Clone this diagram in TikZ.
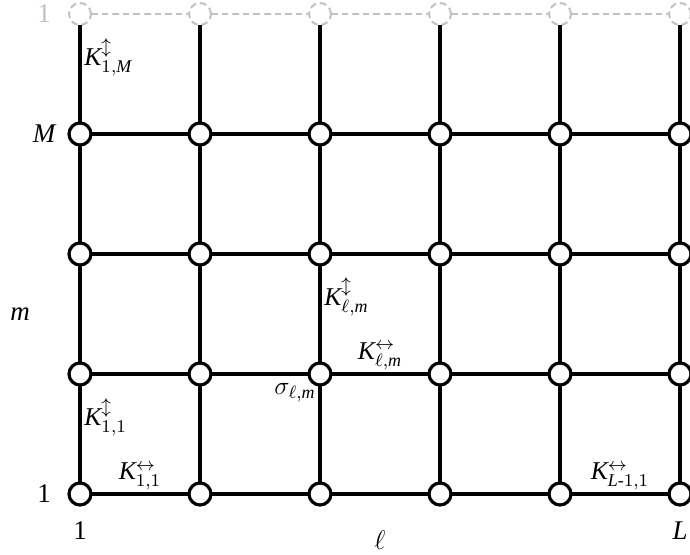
\documentclass[tikz,border=0pt]{standalone}
\usepackage{fix-cm}
\usepackage{amsmath}
\usepackage{fontspec}
\setmainfont{Liberation Serif}
\usetikzlibrary{positioning}
\definecolor{ghost}{gray}{0.76}
\newcommand{\Kud}[1]{$\mathit{K}^{\updownarrow}_{#1}$}
\newcommand{\Klr}[1]{$\mathit{K}^{\leftrightarrow}_{#1}$}
\tikzstyle{site}=[draw, circle, fill=white, line width=1.6pt, inner sep=0, outer sep=0, minimum size=11pt]
\tikzstyle{ghostsite}=[site, draw=ghost, line width=1pt, dash pattern=on 3.3pt off 2pt]
\tikzstyle{bond}=[line width=1.8pt]
\tikzstyle{ghostbond}=[draw=ghost, line width=1.1pt, dash pattern=on 3.3pt off 2pt]
\tikzstyle{axislabel}=[inner sep=0, font=\fontsize{13.5}{16}\selectfont]
\tikzstyle{bondlabel}=[inner sep=2pt, font=\fontsize{12.8}{15}\selectfont]

\begin{document}
\begin{tikzpicture}[x=60pt, y=60pt]
        \useasboundingbox (0, 0) rectangle (5.75, 4.6167);
        % lattice sites, the top row is the periodic copy of row 1
        \foreach \col in {1,...,6} {
            \foreach \row in {1,...,4}
                \node[site] (s-\col-\row) at (\col-0.3333, \row-0.5) {};
            \node[ghostsite] (s-\col-5) at (\col-0.3333, 4.5) {};
        }
        \foreach \col in {1,...,6}
            \foreach \row/\nxt in {1/2, 2/3, 3/4, 4/5}
                \draw[bond] (s-\col-\row) -- (s-\col-\nxt);
        \foreach \col/\nxt in {1/2, 2/3, 3/4, 4/5, 5/6} {
            \foreach \row in {1,...,4}
                \draw[bond] (s-\col-\row) -- (s-\nxt-\row);
            \draw[ghostbond] (s-\col-5) -- (s-\nxt-5);
        }
        % couplings
        \path (s-1-4) -- node[bondlabel, right, pos=0.67] {\Kud{1,\mathit{M}}} (s-1-5);
        \path (s-1-1) -- node[bondlabel, right, pos=0.67] {\Kud{1,1}} (s-1-2);
        \path (s-3-2) -- node[bondlabel, right, pos=0.67] {\Kud{\ell,\mathit{m}}} (s-3-3);
        \path (s-1-1) -- node[bondlabel, above] {\Klr{1,1}} (s-2-1);
        \path (s-3-2) -- node[bondlabel, above] {\Klr{\ell,\mathit{m}}} (s-4-2);
        \path (s-5-1) -- node[bondlabel, above] {\Klr{\mathit{L}\text{-}1,1}} (s-6-1);
        \node[bondlabel, inner sep=0, anchor=north east] (sigma) at ([shift={(-2pt,-4.5pt)}]s-3-2.center) {$\sigma_{\ell,\mathit{m}}$};
        % axes
        \node[axislabel] (row1) at ([xshift=-18pt]s-1-1) {1};
        \node[axislabel] (rowM) at ([xshift=-18pt]s-1-4) {$\mathit{M}$};
        \node[axislabel, text=ghost] (rowtop) at ([xshift=-18pt]s-1-5) {1};
        \path (s-1-2) -- node[axislabel, xshift=-30pt] (mlabel) {$\mathit{m}$} (s-1-3);
        \node[axislabel, anchor=base] (col1) at ([yshift=-22.5pt]s-1-1) {1};
        \node[axislabel, anchor=base] (colL) at ([yshift=-22.5pt]s-6-1) {$\mathit{L}$};
        \path (s-3-1) -- node[axislabel, yshift=-23pt] (llabel) {$\ell$} (s-4-1);
    \end{tikzpicture}
\end{document}
